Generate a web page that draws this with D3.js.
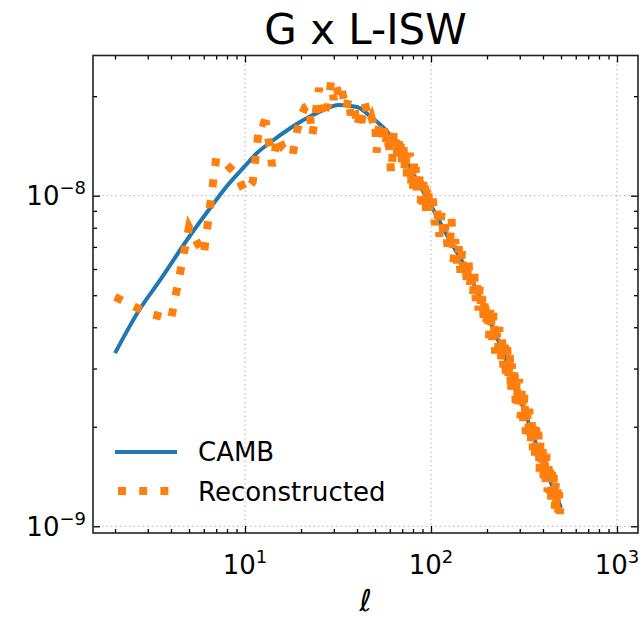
<!DOCTYPE html>
<html><head><meta charset="utf-8">
<script src="https://cdn.jsdelivr.net/npm/d3@7"></script>
<style>
html,body{margin:0;padding:0;background:#fff;}
svg text{font-family:"DejaVu Sans",sans-serif;fill:#000;}
</style></head>
<body><svg id="c" width="642" height="617"></svg>
<script>
// ---- data ----
const chartTitle = "G x L-ISW";
const seriesNames = ["CAMB", "Reconstructed"];
const xTickValues = [10, 100, 1000];
const xTickExp = ["1", "2", "3"];
const yTickValues = [1e-9, 1e-8];
const yTickExp = ["\u22129", "\u22128"];

const cambEll = [2, 2.7, 3.5, 5, 6.5, 8, 10, 11.6, 13.6, 17.5, 20.5, 25, 32, 40, 47, 60, 68, 80, 101, 126, 162, 198, 244, 290, 353, 447, 500];
const cambCl = [3.34e-9, 4.51e-9, 5.56e-9, 7.50e-9, 9.18e-9, 1.07e-8, 1.23e-8, 1.346e-8, 1.446e-8, 1.60e-8, 1.69e-8, 1.79e-8, 1.88e-8, 1.855e-8, 1.74e-8, 1.53e-8, 1.374e-8, 1.17e-8, 9.24e-9, 7.34e-9, 5.72e-9, 4.42e-9, 3.37e-9, 2.58e-9, 1.89e-9, 1.33e-9, 1.14e-9];

const recEll = [2,3,4,5,6,7,8,9,10,11,12,13,14,15,16,17,18,19,20,21,22,23,24,25,26,27,28,29,30,31,32,33,34,35,36,37,38,39,40,41,42,43,44,45,46,47,48,49,50,51,52,53,54,55,56,57,58,59,
60,61,62,63,64,65,66,67,68,69,70,71,72,73,74,75,76,77,78,79,80,81,82,83,84,85,86,87,88,89,90,91,92,93,94,95,96,97,98,99,
102,105,108,111,114,117,120,123,126,129,132,135,138,141,144,147,150,153,156,159,162,165,168,171,174,177,180,183,186,189,192,195,198,201,
205,209,213,217,221,225,229,233,237,241,245,249,253,257,261,265,269,273,277,281,285,289,293,
298,303,308,313,318,323,328,333,338,343,348,353,358,363,368,373,378,383,388,393,398,403,408,413,418,423,428,433,438,443,448,453,458,463,468,473,478,483,488,493,498];
const recCl = [4.94e-9,4.41e-9,4.23e-9,8.04e-9,6.62e-9,1.30e-8,1.24e-8,1.156e-8,1.026e-8,1.10e-8,1.67e-8,1.65e-8,1.23e-8,1.51e-8,1.39e-8,1.35e-8,1.32e-8,1.56e-8,1.74e-8,1.85e-8,1.88e-8,1.52e-8,1.78e-8,2.12e-8,1.72e-8,1.82e-8,1.88e-8,2.21e-8,1.95e-8,2.15e-8,2.00e-8,2.12e-8,1.95e-8,1.82e-8,1.975e-8,1.75e-8,1.87e-8,1.80e-8,1.61e-8,1.72e-8,1.60e-8,1.79e-8,1.91e-8,1.82e-8,1.72e-8,1.67e-8,1.72e-8,1.65e-8,1.69e-8,1.35e-8,1.55e-8,1.68e-8,1.625e-8,1.476e-8,1.60e-8,1.42e-8,1.56e-8,1.42e-8,
1.38e-8,1.17e-8,1.30e-8,1.59e-8,1.34e-8,1.50e-8,1.27e-8,1.51e-8,1.31e-8,1.45e-8,1.22e-8,1.45e-8,1.21e-8,1.36e-8,1.14e-8,1.35e-8,1.16e-8,1.35e-8,1.06e-8,1.24e-8,1.05e-8,1.25e-8,1.06e-8,1.22e-8,1.01e-8,1.18e-8,1.02e-8,1.18e-8,9.5e-9,1.10e-8,9.4e-9,1.10e-8,9.4e-9,1.07e-8,9.0e-9,1.05e-8,8.6e-9,1.03e-8,8.9e-9,1.01e-8,
9.93e-9,8.14e-9,9.03e-9,7.52e-9,8.95e-9,7.44e-9,8.18e-9,6.85e-9,6.97e-9,8.50e-9,6.31e-9,7.40e-9,6.24e-9,7.03e-9,5.85e-9,6.87e-9,5.68e-9,6.35e-9,5.35e-9,6.41e-9,5.38e-9,5.93e-9,4.97e-9,5.82e-9,4.80e-9,5.36e-9,4.49e-9,5.38e-9,4.50e-9,4.97e-9,4.18e-9,4.91e-9,4.07e-9,4.55e-9,
3.71e-9,4.61e-9,3.66e-9,4.43e-9,3.33e-9,4.11e-9,3.40e-9,4.01e-9,3.12e-9,3.69e-9,3.02e-9,3.70e-9,2.81e-9,3.48e-9,2.77e-9,3.36e-9,2.52e-9,3.11e-9,2.58e-9,3.04e-9,2.36e-9,2.80e-9,2.29e-9,
2.79e-9,2.12e-9,2.63e-9,2.08e-9,2.52e-9,1.90e-9,2.33e-9,1.93e-9,2.27e-9,1.76e-9,2.08e-9,1.70e-9,2.09e-9,1.59e-9,1.99e-9,1.58e-9,1.93e-9,1.45e-9,1.80e-9,1.50e-9,1.77e-9,1.38e-9,1.64e-9,1.35e-9,1.66e-9,1.27e-9,1.59e-9,1.26e-9,1.55e-9,1.17e-9,1.46e-9,1.22e-9,1.44e-9,1.13e-9,1.35e-9,1.11e-9,1.33e-9,1.10e-9,1.27e-9,1.09e-9,1.17e-9];

// ---- layout ----
const L = 93, R = 638, T = 55.5, B = 533;
const svg = d3.select("#c");
const x = d3.scaleLog().domain([1.523, 1297]).range([L, R]);
const y = d3.scaleLog().domain([9.543e-10, 2.655e-8]).range([B, T]);

const blue = "#1f77b4", orange = "#ff7f0e";

// grid
const grid = svg.append("g");
xTickValues.forEach(v => grid.append("line").attr("x1", x(v)).attr("x2", x(v)).attr("y1", T).attr("y2", B)
  .attr("stroke", "#b0b0b0").attr("stroke-width", 1).attr("stroke-dasharray", "1.5,3"));
yTickValues.forEach(v => grid.append("line").attr("y1", y(v)).attr("y2", y(v)).attr("x1", L).attr("x2", R)
  .attr("stroke", "#b0b0b0").attr("stroke-width", 1).attr("stroke-dasharray", "1.5,3"));

// minor tick values
const xMinor = [], yMinor = [];
for (let d = 1; d <= 1000; d *= 10) for (let k = 2; k <= 9; k++) { const v = k * d; if (v > 1.523 && v < 1297) xMinor.push(v); }
for (let d = 1e-10; d <= 1e-8; d *= 10) for (let k = 2; k <= 9; k++) { const v = k * d; if (v > 9.543e-10 && v < 2.655e-8) yMinor.push(v); }

function axisTicks(axisFn, scale, tr, major, minor) {
  const g1 = svg.append("g").attr("transform", tr).call(axisFn(scale).tickValues(major).tickSize(-7).tickFormat(""));
  const g2 = svg.append("g").attr("transform", tr).call(axisFn(scale).tickValues(minor).tickSize(-4).tickFormat(""));
  [g1, g2].forEach(g => { g.select(".domain").remove(); g.selectAll("line").attr("stroke", "#000").attr("stroke-width", 1.3); });
}
axisTicks(d3.axisBottom, x, `translate(0,${B})`, xTickValues, xMinor);
axisTicks(d3.axisTop, x, `translate(0,${T})`, xTickValues, xMinor);
axisTicks(d3.axisLeft, y, `translate(${L},0)`, yTickValues, yMinor);
axisTicks(d3.axisRight, y, `translate(${R},0)`, yTickValues, yMinor);

// lines
svg.append("path").datum(cambEll.map((e, i) => [e, cambCl[i]]))
  .attr("d", d3.line().x(d => x(d[0])).y(d => y(d[1])).curve(d3.curveMonotoneX))
  .attr("fill", "none").attr("stroke", blue).attr("stroke-width", 4);
svg.append("path").datum(recEll.map((e, i) => [e, recCl[i]]))
  .attr("d", d3.line().x(d => x(d[0])).y(d => y(d[1]))).attr("fill", "none").attr("stroke", orange)
  .attr("stroke-width", 8).attr("stroke-dasharray", "8,13.2").attr("stroke-linecap", "butt").attr("stroke-linejoin", "miter");

// frame
svg.append("rect").attr("x", L).attr("y", T).attr("width", R - L).attr("height", B - T)
  .attr("fill", "none").attr("stroke", "#222").attr("stroke-width", 1.6);

// tick labels
xTickValues.forEach((v, i) => {
  const t = svg.append("text").attr("x", x(v)).attr("y", 574).attr("text-anchor", "middle").attr("font-size", 26);
  t.append("tspan").text("10");
  t.append("tspan").attr("dy", -11).attr("font-size", 18).text(xTickExp[i]);
});
yTickValues.forEach((v, i) => {
  const t = svg.append("text").attr("x", 86).attr("y", y(v) + 9.5).attr("text-anchor", "end").attr("font-size", 26);
  t.append("tspan").text("10");
  t.append("tspan").attr("dy", -11).attr("font-size", 18).text(yTickExp[i]);
});

// title & axis label
svg.append("text").attr("x", (L + R) / 2).attr("y", 44).attr("text-anchor", "middle").attr("font-size", 42).text(chartTitle);
svg.append("text").attr("x", (L + R) / 2).attr("y", 611).attr("text-anchor", "middle").attr("font-size", 30)
  .attr("font-style", "italic").text("\u2113");

// legend
svg.append("line").attr("x1", 115).attr("x2", 177).attr("y1", 452).attr("y2", 452).attr("stroke", blue).attr("stroke-width", 4);
svg.append("line").attr("x1", 118).attr("x2", 178).attr("y1", 491).attr("y2", 491).attr("stroke", orange)
  .attr("stroke-width", 8).attr("stroke-dasharray", "8,13.2");
svg.append("text").attr("x", 198).attr("y", 461).attr("font-size", 26).text(seriesNames[0]);
svg.append("text").attr("x", 198).attr("y", 501).attr("font-size", 26).text(seriesNames[1]);
</script></body></html>
